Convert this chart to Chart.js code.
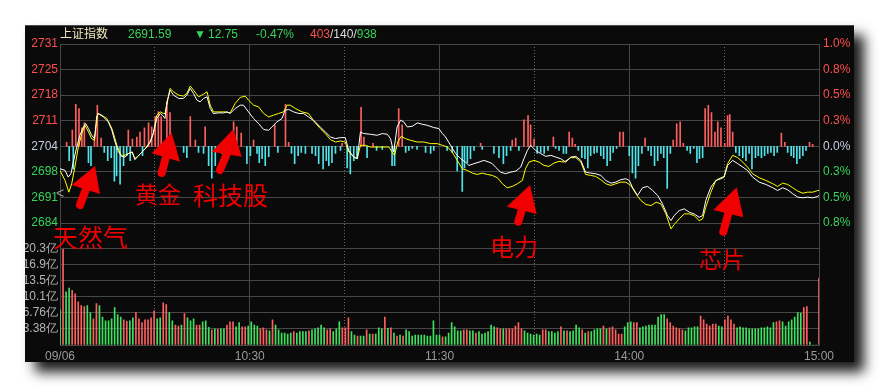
<!DOCTYPE html>
<html><head><meta charset="utf-8">
<script src="https://cdn.jsdelivr.net/npm/chart.js@4/dist/chart.umd.min.js"></script>
<style>
html,body{margin:0;padding:0;background:#fff;width:879px;height:387px;overflow:hidden;}
#panel{position:absolute;left:25px;top:25px;width:829px;height:337px;background:#0a0a0a;box-shadow:10px 10px 12px rgba(0,0,0,0.9);}
#topline{position:absolute;left:25px;top:25px;width:829px;height:1px;background:#4a4a4a;}
canvas{position:absolute;left:0;top:0;}
.hd{position:absolute;top:27px;font:12px 'Liberation Sans','Noto Sans CJK SC',sans-serif;line-height:14px;white-space:nowrap;}
.ann{position:absolute;font-family:'Noto Sans CJK SC',sans-serif;color:#f00000;line-height:1;white-space:nowrap;}
svg{position:absolute;left:0;top:0;}
</style></head>
<body>
<div id="panel"><canvas id="c" width="829" height="337"></canvas></div>
<div id="topline"></div>
<div id="header"></div>
<div class="ann" style="left:53px;top:224px;font-size:25px;">天然气</div>
<div class="ann" style="left:135px;top:182px;font-size:23px;">黄金</div>
<div class="ann" style="left:193px;top:182px;font-size:25px;">科技股</div>
<div class="ann" style="left:490px;top:234px;font-size:24px;">电力</div>
<div class="ann" style="left:699px;top:247px;font-size:23px;">芯片</div>
<div style="position:absolute;left:56px;top:186px;font:14px 'Liberation Sans',sans-serif;color:#999;line-height:1;">&lt;</div>
<svg id="arrows" width="879" height="387"></svg>
<script>
// ---------- header ----------
const indexName = '上证指数';
const lastPrice = '2691.59';
const changeValue = '12.75';
const changePct = '-0.47%';
const breadth = ['403', '140', '938'];

// ---------- axes ----------
const prevClose = 2704.34;
const priceStep = 6.66;
const priceTickLabels = ['2731','2725','2718','2711','2704','2698','2691','2684',''];
const pctTickLabels = ['1.0%','0.8%','0.5%','0.3%','0.0%','0.3%','0.5%','0.8%',''];
const volStep = 3.38;
const volTickLabels = ['20.3亿','16.9亿','13.5亿','10.1亿','6.76亿','3.38亿',''];
const timeTickValues = [0,30,60,90,120,150,180,210,240];
const timeTickLabels = ['09/06','','10:30','','11:30','','14:00','','15:00'];

// ---------- index (white) line: minutes after 09:30, value ----------
const priceMinutes = [0,1.6,2.6,3.5,4.1,5.3,6.3,7.4,8.1,9.0,10.0,10.9,11.6,12.1,13.7,15.3,16.4,17.4,18.5,19.5,20.6,21.6,22.9,23.7,24.6,25.9,27.5,28.5,29.5,30.6,31.7,32.4,33.2,33.8,34.8,35.9,37.5,39.0,40.1,41.2,42.2,43.3,44.3,45.4,46.5,47.5,48.5,50.1,51.7,52.8,53.8,55.4,57.0,58.0,59.6,61.2,62.8,64.4,66.0,67.0,68.6,70.2,71.2,72.3,73.9,75.5,77.0,78.6,80.7,82.3,83.9,85.5,87.1,88.7,90.2,91.3,92.9,94.0,95.0,96.0,98.2,100.3,101.9,103.5,104.5,105.5,106.6,107.7,108.7,109.8,111.4,113.0,114.5,116.1,118.2,119.8,120.9,121.9,123.5,125.1,126.7,128.2,129.3,130.9,132.5,134.0,135.6,136.7,137.7,139.3,140.9,142.5,144.1,145.7,146.7,147.8,148.8,150.4,152.0,153.6,155.2,156.7,158.3,159.9,161.5,163.1,164.7,166.2,167.8,169.4,171.0,172.6,174.2,175.7,177.3,178.9,180.0,181.0,182.6,184.2,185.8,187.4,189.0,190.5,192.1,193.2,194.2,195.8,197.4,199.0,200.5,202.1,203.2,204.2,205.8,207.4,209.0,210.0,211.1,212.7,214.3,215.9,217.4,219.0,221.1,223.2,225.4,226.9,228.5,230.1,231.7,233.3,234.9,236.4,238.0,239.6,240];
const priceValues = [2698.52,2698.08,2696.33,2697.29,2699.91,2704.16,2707.22,2709.39,2710.28,2708.97,2707.22,2706.36,2712.00,2712.89,2712.00,2710.70,2708.53,2705.47,2702.86,2701.73,2701.55,2702.44,2702.86,2700.87,2701.73,2702.86,2704.16,2705.47,2707.67,2711.59,2712.89,2712.45,2711.59,2715.92,2718.98,2717.67,2716.81,2716.81,2717.67,2719.42,2718.12,2716.37,2715.92,2716.81,2717.23,2714.20,2712.89,2713.05,2713.05,2713.31,2712.89,2714.20,2715.06,2715.06,2713.31,2711.59,2710.28,2708.71,2708.53,2709.39,2710.70,2711.59,2713.75,2713.94,2713.31,2712.89,2712.89,2712.00,2710.70,2709.39,2708.08,2706.78,2706.36,2706.62,2706.62,2703.30,2701.55,2701.13,2708.08,2707.67,2707.48,2707.22,2707.67,2707.48,2706.36,2702.86,2709.39,2711.14,2710.70,2709.39,2709.57,2710.44,2710.10,2709.83,2709.23,2708.97,2707.67,2706.78,2704.61,2702.44,2701.13,2700.24,2699.38,2699.83,2700.24,2700.69,2700.24,2699.83,2698.94,2697.63,2697.21,2697.63,2697.89,2698.94,2701.13,2703.30,2704.61,2703.30,2702.44,2701.73,2702.00,2701.55,2701.13,2700.24,2701.55,2701.73,2700.69,2697.63,2697.37,2697.21,2696.77,2695.46,2694.76,2695.02,2695.65,2695.91,2695.46,2693.71,2691.54,2693.56,2693.90,2692.85,2691.54,2689.37,2686.32,2685.01,2686.32,2687.62,2688.07,2687.18,2686.76,2685.87,2686.32,2690.24,2693.71,2695.46,2695.91,2696.33,2699.38,2700.69,2699.83,2698.94,2698.08,2696.33,2695.02,2694.42,2693.56,2692.85,2693.56,2693.03,2691.99,2691.10,2690.94,2691.10,2690.94,2691.28,2691.59];

// ---------- unweighted (yellow) line ----------
const avgMinutes = [0,1.6,2.8,3.7,4.7,5.8,6.9,7.9,9.0,10.0,10.9,11.9,13.2,14.8,16.4,18.0,19.5,21.1,22.7,23.7,25.3,26.9,28.5,29.5,30.6,31.7,32.7,33.2,34.3,34.8,35.9,37.5,39.0,40.1,41.2,42.2,43.8,45.4,46.5,47.5,48.5,50.1,52.2,53.8,55.4,57.0,58.6,59.6,61.2,62.8,64.4,66.0,67.5,69.1,70.7,71.8,72.8,74.4,76.5,78.6,80.7,82.3,83.9,85.5,87.1,88.7,90.2,91.3,92.9,94.0,95.0,96.6,98.2,99.7,101.9,104.0,105.0,105.8,106.8,107.9,109.2,110.8,113.0,115.0,117.2,119.3,120.9,122.5,124.0,125.6,127.2,128.8,130.4,131.9,133.5,135.1,136.7,138.3,139.9,141.4,143.0,144.6,146.2,147.2,148.3,149.9,151.5,153.0,154.6,156.2,157.8,159.4,161.5,163.1,164.7,166.2,167.8,169.4,171.0,172.6,174.2,175.7,177.3,178.9,180.5,182.1,183.7,185.3,186.9,188.5,190.0,191.6,193.2,194.2,195.8,197.4,199.0,200.5,202.1,203.2,204.2,205.8,207.4,209.0,210.0,211.1,212.7,214.3,215.9,217.4,219.0,221.1,223.2,225.4,226.9,228.5,230.1,231.7,233.3,234.9,236.4,238.0,239.6,240];
const avgValues = [2698.08,2695.46,2692.41,2694.60,2698.94,2704.16,2707.67,2709.83,2708.08,2706.36,2705.92,2712.89,2712.45,2711.59,2708.97,2704.61,2701.73,2702.26,2702.86,2701.13,2702.26,2703.75,2705.47,2707.67,2712.45,2713.31,2712.89,2712.89,2717.23,2719.42,2718.54,2717.67,2717.41,2718.12,2720.03,2718.98,2717.23,2717.93,2718.54,2715.06,2713.31,2713.31,2713.31,2713.05,2715.51,2717.07,2717.41,2716.37,2715.06,2714.62,2712.89,2712.00,2712.45,2712.89,2713.31,2715.06,2715.06,2714.20,2713.31,2712.89,2710.44,2708.97,2707.67,2706.10,2705.47,2705.73,2705.47,2702.86,2701.55,2701.13,2704.61,2704.61,2704.16,2704.16,2704.16,2704.16,2702.86,2702.00,2705.47,2706.96,2706.36,2705.92,2705.47,2705.47,2705.05,2705.05,2704.61,2704.16,2702.86,2700.69,2698.52,2698.08,2697.37,2697.03,2697.37,2697.03,2696.77,2696.17,2694.60,2693.56,2693.90,2694.60,2695.46,2698.52,2700.24,2700.69,2700.24,2699.38,2699.12,2699.98,2700.43,2700.24,2701.40,2701.40,2700.24,2697.03,2696.77,2696.51,2695.65,2694.60,2694.16,2694.60,2695.02,2695.02,2694.16,2691.99,2690.24,2689.19,2688.93,2689.79,2689.37,2686.76,2682.84,2683.97,2685.46,2686.76,2686.76,2686.32,2685.01,2685.46,2688.49,2692.41,2695.46,2696.17,2696.51,2699.83,2702.00,2701.40,2700.24,2698.94,2697.21,2696.17,2695.46,2694.60,2693.90,2694.76,2694.42,2693.56,2692.67,2692.14,2692.41,2692.41,2692.85,2692.85];

// ---------- buy/sell strength bars (100 = half of price panel) ----------
const strengthMinutes = [2.1,2.9,3.9,4.2,5.0,6.0,6.9,7.7,9.0,9.8,10.9,11.8,13.0,14.0,15.1,16.2,17.2,17.9,19.0,20.1,21.1,21.6,22.2,22.9,24.3,25.3,26.1,26.7,28.0,29.0,30.1,31.1,32.0,33.8,34.8,39.1,40.1,41.2,42.8,43.8,45.4,45.9,47.0,48.0,49.1,51.2,52.8,53.5,54.9,55.9,57.3,59.1,60.2,61.2,62.3,63.0,63.9,64.9,66.0,67.9,68.9,71.3,72.3,73.2,74.2,75.3,76.3,77.6,
79.7,80.8,81.8,83.2,84.2,85.0,86.0,87.1,88.7,89.2,90.8,91.8,92.9,93.9,95.2,96.1,97.1,99.0,100.1,101.9,105.0,105.8,107.1,108.2,109.3,110.3,111.4,112.9,115.6,117.2,118.2,122.4,124.0,125.6,127.2,127.9,128.8,129.8,130.9,133.0,133.5,137.2,138.8,140.2,141.2,142.5,143.0,144.1,145.1,146.7,148.0,148.8,149.9,150.9,152.0,153.1,154.3,156.0,156.7,157.8,159.2,
160.1,161.0,162.0,162.9,163.9,165.0,166.0,166.9,167.8,168.9,169.8,171.0,171.9,173.0,174.0,174.9,176.0,177.0,178.1,180.0,181.0,182.0,182.9,184.0,185.0,186.0,186.9,188.0,189.0,190.0,190.9,192.0,193.0,193.9,195.0,196.1,197.1,198.3,199.3,200.4,201.4,202.2,203.2,204.0,205.0,206.0,207.1,208.0,209.0,210.2,211.1,211.8,212.7,213.7,214.8,215.9,216.9,217.9,218.8,219.9,220.8,221.8,222.8,223.8,224.8,225.8,226.8,228.1,229.2,230.1,231.2,232.0,233.0,233.9,234.9,235.9,237.0,238.0];
const strengthValues = [4,-14,16,-22,41,37,18,23,-16,-19,11,40,8,-6,-14,-11,-34,-29,-37,-19,-9,16,-14,7,9,14,-9,18,23,19,29,34,29,43,33,-6,-11,29,6,-6,-7,19,-19,-31,-19,-7,-9,-4,24,19,13,-17,-9,6,-7,-16,-12,-19,-10,21,-6,41,4,-7,-17,-9,-6,-7,
-7,-9,-17,-22,-14,-19,-16,-7,-4,3,-21,-27,-14,-12,38,9,-11,3,-4,-3,-19,-19,37,21,-6,-4,-2,-3,-6,-7,-4,-4,-6,-24,-44,-21,-16,-12,-4,3,-3,-7,-11,-17,-9,-4,6,8,-4,26,30,21,7,-7,-6,-7,-4,9,-2,-4,-7,
-7,14,8,2,-4,-11,-12,-21,-9,-7,-6,-9,-12,-19,-14,-6,-2,14,14,-9,-26,-31,-19,-7,8,-4,-9,-19,-14,-7,-11,-41,-7,6,22,24,3,-4,-7,-2,-16,-12,-11,37,40,33,14,24,18,3,30,31,14,-6,-9,-11,-14,-7,-22,-11,-9,-11,-9,-7,-6,-9,-6,13,4,-6,-9,-11,-17,-12,-9,-4,4,2];

// ---------- volume (亿), one bar per slot, u = up (red), d = down (green) ----------
const volumes = [7.4,20.2,11.2,12.0,11.5,10.8,9.1,8.3,8.1,8.3, 6.8,5.5,8.7,8.3,5.9,5.1,5.1,5.5,7.9,6.4, 5.9,5.3,5.0,5.1,5.7,6.8,5.5,4.7,5.3,5.3, 5.7,7.2,5.5,5.7,8.9,8.5,6.8,5.1,4.2,4.0, 4.2,6.6,5.7,5.1,5.5,4.2,4.2,4.9,5.1,3.7, 3.2,3.4,3.3,3.4,3.4,4.2,4.9,4.9,3.8,4.7, 3.8,3.8,4.0,4.9,4.2,4.0,3.4,3.6,3.2,3.0, 5.3,4.2,3.2,2.5,2.5,2.3,2.5,2.8,2.5,2.8, 2.8,2.8,3.0,3.2,3.4,3.6,4.2,3.6,3.2,3.4, 2.8,3.4,4.9,3.6,3.6,5.7,2.8,2.1,1.9,1.9, 1.9,3.2,2.3,2.3,2.3,3.6,3.4,5.9,3.5,3.6, 2.5,1.9,2.1,1.9,3.2,2.8,1.9,2.1,2.1,2.1, 2.1,1.9,1.9,5.1,2.1,2.1,1.7,1.7,2.5,4.7, 3.8,3.0,3.0,3.2,3.2,3.0,3.0,2.5,2.8,2.3, 2.5,2.8,4.2,3.8,3.6,3.4,3.4,3.4,3.4,3.4, 4.0,4.7,3.4,3.0,2.5,2.3,2.1,2.3,2.1,3.2, 3.2,2.8,2.8,2.5,2.8,3.8,3.0,3.0,2.8,3.0, 4.2,3.6,3.2,2.5,2.8,2.8,3.2,3.4,3.4,4.0, 3.4,3.6,3.8,3.2,2.3,2.3,3.8,4.7,4.9,4.7, 4.7,3.6,3.8,4.0,4.2,4.2,4.2,5.9,6.4,6.4, 5.5,4.7,4.0,3.6,3.4,3.2,3.0,3.6,3.6,3.8, 3.8,6.1,5.3,4.4,4.0,4.4,4.4,4.0,3.8,5.3, 6.1,5.3,4.4,3.6,3.8,3.6,3.6,3.4,3.4,3.4, 3.4,3.6,3.6,3.8,3.6,4.7,4.9,5.1,4.9,4.0, 4.9,5.3,5.9,6.8,6.7,7.9,8.1,0.6,0,0, 14.1];
const volumeDirs = ['dudduuuuud','duuddddddd','duudduuuuu','uudduudduu','duddduuddd','ududduuudd','uudddduuud','uddddddudd','dduddddduu','ddduuuddud','dududddudu','dududddddd','dddddduddd','ddduuddudd','dddduuduuu','uuuddddddu','uddddududd','ddududdddu','duuuuudddu','uddddddddd','uuuuuudddd','duuuuuuddu','uuuddddddd','dddddduudd','ddddduuddd','u'].join('').split('');

// ---------- colours ----------
const RED = '#ff4f4f', GREEN = '#38d45a', NEUTRAL = '#c4cce0';
const BAR_RED = '#ff5e5e', BAR_CYAN = '#4fe3ea', VOL_GREEN = '#3fe25e';
const FONT = "'Liberation Sans', Arial, sans-serif";

// header
(function(){
  const h = document.getElementById('header');
  const items = [
    [60, indexName, '#efe9c0'],
    [128, lastPrice, GREEN],
    [194, '▼', GREEN],
    [208, changeValue, GREEN],
    [256, changePct, GREEN]
  ];
  items.forEach(([x, t, c]) => {
    const s = document.createElement('span');
    s.className = 'hd'; s.style.left = x + 'px'; s.style.color = c; s.textContent = t;
    h.appendChild(s);
  });
  const b = document.createElement('span');
  b.className = 'hd'; b.style.left = '310px';
  b.innerHTML = '<span style="color:' + RED + '">' + breadth[0] + '</span><span style="color:#ddd">/' + breadth[1] + '/</span><span style="color:' + GREEN + '">' + breadth[2] + '</span>';
  h.appendChild(b);
})();

// arrows (annotation)
(function(){
  const arrows = [
    {tail:[80,205], tip:[95,166], l:[71.7,185], r:[100,194]},
    {tail:[161.7,173], tip:[171.7,132.7], l:[151.7,153.3], r:[180,161.7]},
    {tail:[220,170], tip:[233.3,129.3], l:[211.7,151.7], r:[241.7,156.7]},
    {tail:[518.3,221.7], tip:[530,185], l:[506.7,206.7], r:[536.7,214]},
    {tail:[723.3,231.7], tip:[736.7,187.3], l:[713.3,210], r:[743.3,217.3]}
  ];
  const svg = document.getElementById('arrows');
  let html = '';
  arrows.forEach(a => {
    const mx = (a.l[0] + a.r[0]) / 2, my = (a.l[1] + a.r[1]) / 2;
    html += '<line x1="' + a.tail[0] + '" y1="' + a.tail[1] + '" x2="' + mx + '" y2="' + my + '" stroke="#f00000" stroke-width="8" stroke-linecap="round"/>';
    html += '<polygon points="' + a.tip.join(',') + ' ' + a.l.join(',') + ' ' + a.r.join(',') + '" fill="#f00000"/>';
  });
  svg.innerHTML = html;
})();

// ---------- chart ----------
const priceTicks = priceTickLabels.map((_, k) => prevClose + (4 - k) * priceStep).reverse();
const pctStep = priceStep / prevClose * 100;
const pctTicks = pctTickLabels.map((_, k) => (4 - k) * pctStep).reverse();
const volTicks = volTickLabels.map((_, k) => (6 - k) * volStep).reverse();
const strengthUnit = 4 * priceStep / 100;
const dotted = [30, 90, 150, 210];

function priceColor(t) { return t < 4 ? RED : (t === 4 ? NEUTRAL : GREEN); }

new Chart(document.getElementById('c'), {
  type: 'bar',
  data: {
    datasets: [
      {
        type: 'line', label: 'avg', xAxisID: 'x', yAxisID: 'yP',
        data: avgMinutes.map((m, i) => ({x: m, y: avgValues[i]})),
        borderColor: '#ffff00', borderWidth: 1, pointRadius: 0, tension: 0, order: 1
      },
      {
        type: 'line', label: 'index', xAxisID: 'x', yAxisID: 'yP',
        data: priceMinutes.map((m, i) => ({x: m, y: priceValues[i]})),
        borderColor: '#ffffff', borderWidth: 1, pointRadius: 0, tension: 0, order: 0
      },
      {
        type: 'bar', label: 'strength', xAxisID: 'x', yAxisID: 'yP',
        data: strengthMinutes.map((m, i) => ({x: m, y: [prevClose, prevClose + strengthValues[i] * strengthUnit]})),
        backgroundColor: strengthValues.map(v => v > 0 ? BAR_RED : BAR_CYAN),
        barThickness: 1, grouped: false, order: 3
      },
      {
        type: 'bar', label: 'volume', xAxisID: 'xv', yAxisID: 'yV',
        data: volumes,
        backgroundColor: volumeDirs.map(d => d === 'u' ? BAR_RED : VOL_GREEN),
        barThickness: 1, grouped: false, order: 3
      }
    ]
  },
  options: {
    responsive: false, animation: false, devicePixelRatio: 1,
    layout: {padding: {top: 19, left: 0, right: 0, bottom: 0}},
    plugins: {legend: {display: false}, tooltip: {enabled: false}},
    scales: {
      x: {
        type: 'linear', position: 'bottom', min: 0, max: 240, offset: false,
        afterBuildTicks: s => { s.ticks = timeTickValues.map(v => ({value: v})); },
        afterFit: s => { s.height = 17; },
        ticks: {callback: (v, i) => timeTickLabels[i], color: '#9a9a9a', font: {family: FONT, size: 12}, padding: 4, autoSkip: false, maxRotation: 0},
        grid: {offset: false, drawTicks: false, color: c => (c.tick && dotted.includes(c.tick.value)) ? '#6a6a6a' : '#474747', lineWidth: 1},
        border: {display: true, color: '#474747', dash: c => (c.tick && dotted.includes(c.tick.value)) ? [1, 2] : []}
      },
      xv: {
        type: 'category', labels: volumes.map((_, i) => String(i)), display: false, offset: false, grid: {offset: false}
      },
      yP: {
        type: 'linear', position: 'left', stack: 'left', stackWeight: 204, weight: 2,
        min: priceTicks[0], max: priceTicks[8],
        afterBuildTicks: s => { s.ticks = priceTicks.map(v => ({value: v})); },
        afterFit: s => { s.width = 35; },
        ticks: {callback: (v, i) => priceTickLabels[8 - i], color: c => priceColor(8 - c.index), font: {family: FONT, size: 12}, padding: 2, autoSkip: false},
        grid: {color: '#474747', drawTicks: false},
        border: {display: false}
      },
      yV: {
        type: 'linear', position: 'left', stack: 'left', stackWeight: 96, weight: 1,
        min: 0, max: volTicks[6],
        afterBuildTicks: s => { s.ticks = volTicks.map(v => ({value: v})); },
        afterFit: s => { s.width = 35; },
        ticks: {callback: (v, i) => volTickLabels[6 - i], color: '#b4b4b4', font: {family: FONT, size: 12}, padding: 2, autoSkip: false},
        grid: {color: '#474747', drawTicks: false},
        border: {display: false}
      },
      yPct: {
        type: 'linear', position: 'right', stack: 'right', stackWeight: 204, weight: 1,
        min: pctTicks[0], max: pctTicks[8],
        afterBuildTicks: s => { s.ticks = pctTicks.map(v => ({value: v})); },
        afterFit: s => { s.width = 35; },
        ticks: {callback: (v, i) => pctTickLabels[8 - i], color: c => priceColor(8 - c.index), font: {family: FONT, size: 12}, padding: 4, autoSkip: false},
        grid: {display: false, drawTicks: false},
        border: {display: false}
      },
      yVR: {
        type: 'linear', position: 'right', stack: 'right', stackWeight: 96, weight: 2,
        min: 0, max: 1,
        afterFit: s => { s.width = 35; },
        ticks: {display: false},
        grid: {display: false, drawTicks: false},
        border: {display: false}
      }
    }
  }
});
</script>
</body></html>
